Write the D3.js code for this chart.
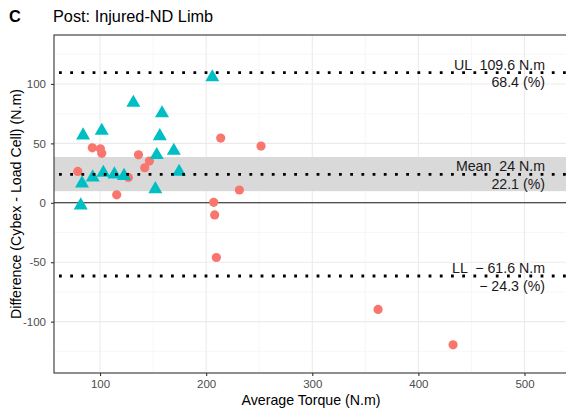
<!DOCTYPE html>
<html><head><meta charset="utf-8">
<script src="https://cdn.jsdelivr.net/npm/d3@7"></script>
<style>body{margin:0;background:#fff}svg{display:block;font-family:"Liberation Sans",Arial,sans-serif}text{white-space:pre}</style>
</head><body><svg id="c" width="566" height="409"></svg>
<script>
// Data
const triTorque = [205.8,131.4,158.4,84.0,101.6,156.3,169.5,153.4,174.5,103.1,113.5,122.6,93.1,83.0,152.1,81.8];
const triDiff   = [105.6,84.2,75.3,56.7,60.6,56.1,43.8,40.2,26.1,25.3,23.9,22.7,21.4,16.3,11.5,-2.2];
const cirTorque = [79.0,92.7,100.3,101.6,136.2,146.5,142.1,126.7,115.7,213.7,251.7,231.3,207.1,208.0,209.6,362.0,432.7];
const cirDiff   = [26.4,46.3,45.5,41.6,40.4,35.1,29.5,21.4,6.7,54.5,47.7,10.8,0.4,-10.2,-46.0,-89.7,-119.5];
const xTicks = [100,200,300,400,500];
const yTicks = [-100,-50,0,50,100];
const xMinor = [150,250,350,450];
const yMinor = [-125,-75,-25,25,75,125];
const meanDiff = 24, upperLim = 109.6, lowerLim = -61.6;
const ciLow = 9.8, ciHigh = 38.5;
const labelsUL = ["UL  109.6 N.m","68.4 (%)"];
const labelsMean = ["Mean  24 N.m","22.1 (%)"];
const labelsLL = ["LL  \u2212 61.6 N.m","\u2212 24.3 (%)"];

const svg = d3.select("#c");
const L=54, R=568, T=35, B=373;
const x = d3.scaleLinear().domain([56.6,541]).range([L,R]);
const y = d3.scaleLinear().domain([-143.2,141.2]).range([B,T]);

const g = svg.append("g");
// minor grid
g.selectAll(".mx").data(xMinor).join("line").attr("x1",d=>x(d)).attr("x2",d=>x(d)).attr("y1",T).attr("y2",B).attr("stroke","#F2F2F2").attr("stroke-width",0.6);
g.selectAll(".my").data(yMinor).join("line").attr("y1",d=>y(d)).attr("y2",d=>y(d)).attr("x1",L).attr("x2",R).attr("stroke","#F2F2F2").attr("stroke-width",0.6);
// major grid
g.selectAll(".gx").data(xTicks).join("line").attr("x1",d=>x(d)).attr("x2",d=>x(d)).attr("y1",T).attr("y2",B).attr("stroke","#EBEBEB").attr("stroke-width",1.1);
g.selectAll(".gy").data(yTicks).join("line").attr("y1",d=>y(d)).attr("y2",d=>y(d)).attr("x1",L).attr("x2",R).attr("stroke","#EBEBEB").attr("stroke-width",1.1);

// CI band
g.append("rect").attr("x",L).attr("width",R-L).attr("y",y(ciHigh)).attr("height",y(ciLow)-y(ciHigh)).attr("fill","#D9D9D9");

// zero line
g.append("line").attr("x1",L).attr("x2",R).attr("y1",y(0)).attr("y2",y(0)).attr("stroke","#1a1a1a").attr("stroke-width",1.1);

// points
g.selectAll(".cir").data(cirTorque.map((t,i)=>[t,cirDiff[i]])).join("circle")
 .attr("cx",d=>x(d[0])).attr("cy",d=>y(d[1])).attr("r",4.6).attr("fill","#F8766D");
g.selectAll(".tri").data(triTorque.map((t,i)=>[t,triDiff[i]])).join("path")
 .attr("d",d3.symbol(d3.symbolTriangle,85)).attr("transform",d=>`translate(${x(d[0])},${y(d[1])})`).attr("fill","#00BFC4");

// dotted lines
[upperLim,meanDiff,lowerLim].forEach(v=>{
  g.append("line").attr("x1",L).attr("x2",R).attr("y1",y(v)).attr("y2",y(v))
   .attr("stroke","#000").attr("stroke-width",2.8).attr("stroke-dasharray","2.8 8.4").attr("stroke-dashoffset",-5);
});

// labels
function lab(lines, v){
  const t = g.append("text").attr("text-anchor","end").attr("font-size",14.2).attr("fill","#1a1a1a");
  t.append("tspan").attr("x",545).attr("y",y(v)-3).text(lines[0]);
  t.append("tspan").attr("x",545).attr("y",y(v)+14.5).text(lines[1]);
}
lab(labelsUL,upperLim); lab(labelsMean,meanDiff); lab(labelsLL,lowerLim);

// border
svg.append("rect").attr("x",L).attr("y",T).attr("width",R-L).attr("height",B-T).attr("fill","none").attr("stroke","#333").attr("stroke-width",1.1);

// axes
const xa = svg.append("g").attr("transform",`translate(0,${B})`)
 .call(d3.axisBottom(x).tickValues(xTicks).tickFormat(d=>String(d)).tickSize(3).tickPadding(4));
const ya = svg.append("g").attr("transform",`translate(${L},0)`)
 .call(d3.axisLeft(y).tickValues(yTicks).tickFormat(d=>String(d)).tickSize(3).tickPadding(5));
[xa,ya].forEach(a=>{a.select(".domain").remove();a.selectAll("line").attr("stroke","#333").attr("stroke-width",1.1);
 a.selectAll("text").attr("fill","#4D4D4D").attr("font-size",11.5).attr("font-family","Liberation Sans, Arial, sans-serif");});

// axis titles
svg.append("text").attr("x",(L+R)/2).attr("y",405).attr("text-anchor","middle").attr("font-size",14.2).attr("fill","#000").text("Average Torque (N.m)");
svg.append("text").attr("transform",`translate(21,${(T+B)/2}) rotate(-90)`).attr("text-anchor","middle").attr("font-size",14.2).attr("fill","#000").text("Difference (Cybex - Load Cell) (N.m)");

// title
svg.append("text").attr("x",9).attr("y",22).attr("font-size",16.3).attr("font-weight","bold").text("C");
svg.append("text").attr("x",53).attr("y",22).attr("font-size",16.3).text("Post: Injured-ND Limb");
</script></body></html>
